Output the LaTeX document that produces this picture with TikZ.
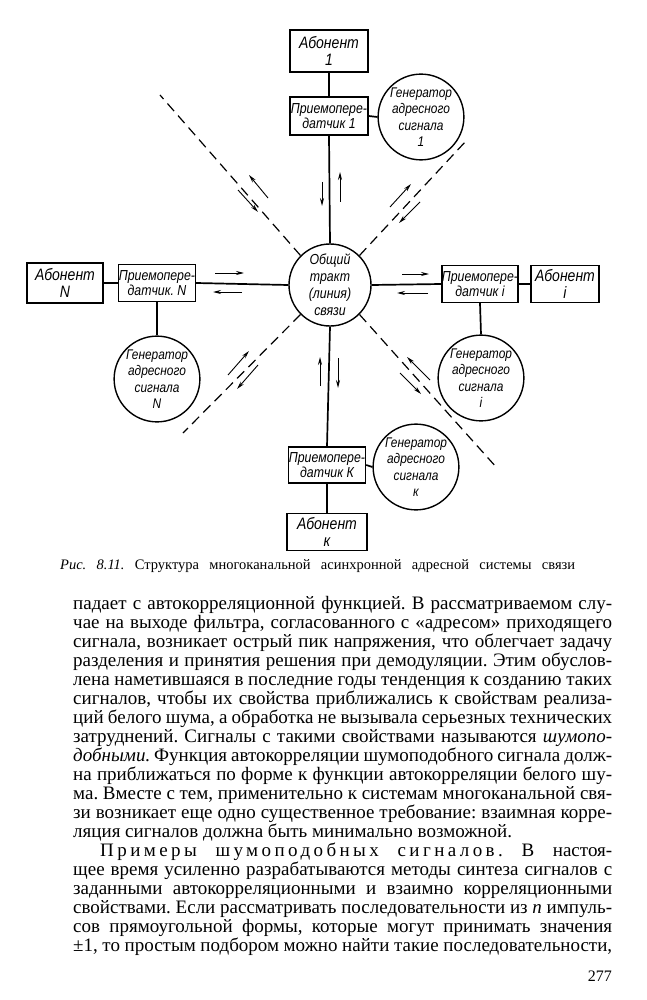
\documentclass[tikz,border=0pt]{standalone}
\usepackage{fontspec}
\setmainfont{Liberation Serif}
\newfontfamily\dfont[FakeStretch=0.85]{Liberation Sans}
\usetikzlibrary{arrows.meta}
\frenchspacing
\tikzset{
  blk/.style={draw, line width=1.4pt, inner sep=0pt, align=center,
    font=\dfont\itshape\fontsize{14.5}{15}\selectfont},
  abn/.style={blk, font=\dfont\itshape\fontsize{16.5}{17}\selectfont},
  gen/.style={draw, circle, line width=1.4pt, inner sep=0pt, align=center,
    minimum size=76pt, font=\dfont\itshape\fontsize{14}{16.5}\selectfont},
  conn/.style={line width=1.7pt},
  dline/.style={line width=1.2pt, dash pattern=on 10pt off 6pt},
  sig/.style={line width=0.9pt, -{Stealth[length=8pt,width=4pt]}},
  txt/.style={anchor=base west, inner sep=0pt, font=\fontsize{19}{20}\selectfont}
}
\begin{document}
\begin{tikzpicture}[x=1pt,y=-1pt]
\useasboundingbox (0,0) rectangle (646,1000);
\fill[white] (0,0) rectangle (646,1000);

% nodes
\node[abn, minimum width=78pt, minimum height=42pt] (ab1) at (329,51) {Абонент\\1};
\node[blk, minimum width=78pt, minimum height=38pt] (tr1) at (329,116) {Приемопере-\\датчик 1};
\node[gen] (g1) at (421,117) {Генератор\\адресного\\сигнала\\1};
\node[gen, minimum size=82pt, font=\dfont\itshape\fontsize{14.5}{17}\selectfont] (c) at (330,285) {Общий\\тракт\\(линия)\\связи};

\node[abn, minimum width=76pt, minimum height=40pt] (abN) at (65,283) {Абонент\\N};
\node[blk, minimum width=77pt, minimum height=37pt] (trN) at (157,283) {Приемопере-\\датчик. N};
\node[gen] (gN) at (157,379) {Генератор\\адресного\\сигнала\\N};

\node[blk, minimum width=76pt, minimum height=37pt] (tri) at (480,284) {Приемопере-\\датчик i};
\node[abn, minimum width=68pt, minimum height=37pt] (abi) at (565,284) {Абонент\\i};
\node[gen] (gi) at (481,378) {Генератор\\адресного\\сигнала\\i};

\node[blk, minimum width=77pt, minimum height=36pt] (trK) at (327,465) {Приемопере-\\датчик К};
\node[abn, minimum width=80pt, minimum height=37pt] (abK) at (327,532) {Абонент\\к};
\node[gen, minimum size=74pt] (gK) at (416,467) {Генератор\\адресного\\сигнала\\к};

% connectors
\draw[conn] (ab1.south) -- (tr1.north);
\draw[conn] (tr1.east) -- (g1.west);
\draw[conn] (tr1.south) -- (c.north);
\draw[conn] (abN.east) -- (trN.west);
\draw[conn] (trN.east) -- (c.west);
\draw[conn] (trN.south) -- (gN.north);
\draw[conn] (c.east) -- (tri.west);
\draw[conn] (tri.east) -- (abi.west);
\draw[conn] (tri.south) -- (gi.north);
\draw[conn] (c.south) -- (trK.north);
\draw[conn] (trK.south) -- (abK.north);
\draw[conn] (trK.east) -- (gK.west);

% dashed lines
\coordinate (ul) at (160,95);
\coordinate (ur) at (466,141);
\coordinate (ll) at (183,433);
\coordinate (lr) at (497,468);
\draw[dline] (c.north west) -- (ul);
\draw[dline] (c.north east) -- (ur);
\draw[dline] (c.south west) -- (ll);
\draw[dline] (c.south east) -- (lr);

% signal arrows
\draw[sig] (322,182) -- (322,206);
\draw[sig] (340,202) -- (340,172);
\draw[sig] (320,386) -- (320,357);
\draw[sig] (338,358) -- (338,388);
\draw[sig] (215,273) -- (244,273);
\draw[sig] (242,292) -- (213,292);
\draw[sig] (402,274) -- (429,274);
\draw[sig] (428,293) -- (397,293);
\draw[sig] (268,198) -- (249,175);
\draw[sig] (238,190) -- (258,212);
\draw[sig] (390,207) -- (411,184);
\draw[sig] (420,202) -- (399,223);
\draw[sig] (228,375) -- (249,351);
\draw[sig] (258,365) -- (237,389);
\draw[sig] (430,380) -- (407,357);
\draw[sig] (400,373) -- (421,394);

% caption
\node[anchor=base west, inner sep=0pt, font=\fontsize{14.5}{16}\selectfont] (cap) at (60,569)
  {\makebox[515pt][s]{\textit{Рис. 8.11.} Структура многоканальной асинхронной адресной системы связи}};

% body text
\node[txt] (l1) at (73,609) {\makebox[539pt][s]{падает с автокорреляционной функцией. В рассматриваемом слу-}};
\node[txt] (l2) at (73,628) {\makebox[539pt][s]{чае на выходе фильтра, согласованного с «адресом» приходящего}};
\node[txt] (l3) at (73,647) {\makebox[539pt][s]{сигнала, возникает острый пик напряжения, что облегчает задачу}};
\node[txt] (l4) at (73,666) {\makebox[539pt][s]{разделения и принятия решения при демодуляции. Этим обуслов-}};
\node[txt] (l5) at (73,685) {\makebox[539pt][s]{лена наметившаяся в последние годы тенденция к созданию таких}};
\node[txt] (l6) at (73,704) {\makebox[539pt][s]{сигналов, чтобы их свойства приближались к свойствам реализа-}};
\node[txt] (l7) at (73,723) {\makebox[539pt][s]{ций белого шума, а обработка не вызывала серьезных технических}};
\node[txt] (l8) at (73,742) {\makebox[539pt][s]{затруднений. Сигналы с такими свойствами называются \textit{шумопо-}}};
\node[txt] (l9) at (73,761) {\makebox[539pt][s]{\textit{добными.} Функция автокорреляции шумоподобного сигнала долж-}};
\node[txt] (l10) at (73,780) {\makebox[539pt][s]{на приближаться по форме к функции автокорреляции белого шу-}};
\node[txt] (l11) at (73,799) {\makebox[539pt][s]{ма. Вместе с тем, применительно к системам многоканальной свя-}};
\node[txt] (l12) at (73,818) {\makebox[539pt][s]{зи возникает еще одно существенное требование: взаимная корре-}};
\node[txt] (l13) at (73,837) {ляция сигналов должна быть минимально возможной.};
\node[txt] (l14) at (100,856) {\makebox[512pt][s]{{\addfontfeature{LetterSpace=18}Примеры} {\addfontfeature{LetterSpace=18}шумоподобных} {\addfontfeature{LetterSpace=18}сигналов.} В настоя-}};
\node[txt] (l15) at (73,875) {\makebox[539pt][s]{щее время усиленно разрабатываются методы синтеза сигналов с}};
\node[txt] (l16) at (73,894) {\makebox[539pt][s]{заданными автокорреляционными и взаимно корреляционными}};
\node[txt] (l17) at (73,913) {\makebox[539pt][s]{свойствами. Если рассматривать последовательности из \textit{n} импуль-}};
\node[txt] (l18) at (73,932) {\makebox[539pt][s]{сов прямоугольной формы, которые могут принимать значения}};
\node[txt] (l19) at (73,951) {\makebox[539pt][s]{±1, то простым подбором можно найти такие последовательности,}};
\node[anchor=base east, inner sep=0pt, font=\fontsize{16}{18}\selectfont] (pg) at (612,981) {277};
\end{tikzpicture}
\end{document}
